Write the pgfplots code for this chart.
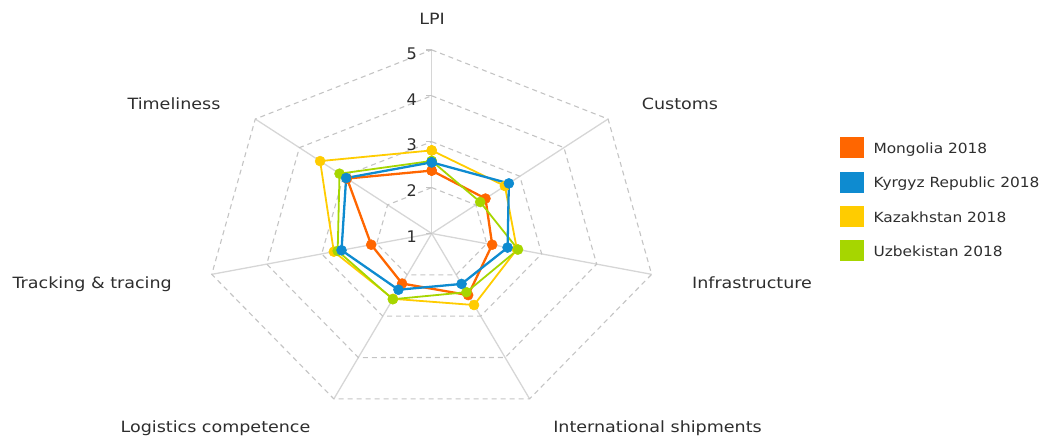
\documentclass[border=0pt]{standalone}
\usepackage{fontspec}
\setmainfont{DejaVu Sans}
\usepackage{pgfplots}
\usepackage{pgfplotstable}
\pgfplotsset{compat=1.18}
\definecolor{cMon}{HTML}{FF6600}
\definecolor{cKyr}{HTML}{0E8BD0}
\definecolor{cKaz}{HTML}{FFCC00}
\definecolor{cUzb}{HTML}{A6D600}
\definecolor{gridc}{HTML}{C4C4C4}
\definecolor{spokec}{HTML}{D6D6D6}
\definecolor{txt}{HTML}{2E2E2E}

% k = axis index (0 LPI, 1 Customs, 2 Infrastructure, 3 International shipments,
% 4 Logistics competence, 5 Tracking & tracing, 6 Timeliness); last row closes the polygon
\pgfplotstableread{
k v
0 2.37
1 2.22
2 2.10
3 2.49
4 2.21
5 2.10
6 2.92
7 2.37
}\mon
\pgfplotstableread{
k v
0 2.55
1 2.75
2 2.38
3 2.22
4 2.36
5 2.64
6 2.94
7 2.55
}\kyr
\pgfplotstableread{
k v
0 2.81
1 2.66
2 2.55
3 2.73
4 2.58
5 2.78
6 3.53
7 2.81
}\kaz
\pgfplotstableread{
k v
0 2.58
1 2.10
2 2.57
3 2.42
4 2.59
5 2.71
6 3.09
7 2.58
}\uzb

\newcommand{\lab}[1]{{\color{txt}\fontsize{15.5}{18}\selectfont\scalebox{1.13}[1]{#1}}}
\newcommand{\leg}[1]{{\color{txt}\fontsize{14}{16}\selectfont\scalebox{1.1}[1]{#1}}}
\newcommand{\tck}[1]{{\color{txt}\fontsize{16}{18}\selectfont #1}}

\begin{document}
\begin{tikzpicture}
\useasboundingbox (0,0) rectangle (1048pt,437pt);
\begin{axis}[at={(0,0)}, anchor=south west, scale only axis, hide axis,
  x=56.4pt, y=45.9pt, xmin=-7.654, xmax=10.927, ymin=-4.434, ymax=5.087, clip=false]
% spokes
\pgfplotsinvokeforeach{0,1,2,3,4,5,6}{
  \draw[spokec, line width=1.3pt] (axis cs:0,0) -- (axis cs:{4*sin(#1*360/7)},{4*cos(#1*360/7)});
}
% rings
\pgfplotsinvokeforeach{1,2,3,4}{
  \draw[gridc, line width=1.1pt, dash pattern=on 5pt off 4pt]
    (axis cs:0,#1)
    -- (axis cs:{#1*sin(360/7)},{#1*cos(360/7)})
    -- (axis cs:{#1*sin(720/7)},{#1*cos(720/7)})
    -- (axis cs:{#1*sin(1080/7)},{#1*cos(1080/7)})
    -- (axis cs:{#1*sin(1440/7)},{#1*cos(1440/7)})
    -- (axis cs:{#1*sin(1800/7)},{#1*cos(1800/7)})
    -- (axis cs:{#1*sin(2160/7)},{#1*cos(2160/7)})
    -- cycle;
}
\addplot[cKaz, line width=1.8pt, mark=*, mark size=5pt, mark options={solid, fill=cKaz, draw=cKaz, line width=0.5pt}]
  table[x expr={(\thisrow{v}-1)*sin(\thisrow{k}*360/7)}, y expr={(\thisrow{v}-1)*cos(\thisrow{k}*360/7)}] {\kaz};
\addplot[cMon, line width=2.3pt, mark=*, mark size=5pt, mark options={solid, fill=cMon, draw=cMon, line width=0.5pt}]
  table[x expr={(\thisrow{v}-1)*sin(\thisrow{k}*360/7)}, y expr={(\thisrow{v}-1)*cos(\thisrow{k}*360/7)}] {\mon};
\addplot[cUzb, line width=1.8pt, mark=*, mark size=5pt, mark options={solid, fill=cUzb, draw=cUzb, line width=0.5pt}]
  table[x expr={(\thisrow{v}-1)*sin(\thisrow{k}*360/7)}, y expr={(\thisrow{v}-1)*cos(\thisrow{k}*360/7)}] {\uzb};
\addplot[cKyr, line width=2.3pt, mark=*, mark size=5pt, mark options={solid, fill=cKyr, draw=cKyr, line width=0.5pt}]
  table[x expr={(\thisrow{v}-1)*sin(\thisrow{k}*360/7)}, y expr={(\thisrow{v}-1)*cos(\thisrow{k}*360/7)}] {\kyr};
\end{axis}
\begin{scope}[x=1pt,y=1pt]
% radial tick marks and labels on LPI axis
\foreach \v/\py in {5/50, 4/95.9, 3/141.75, 2/187.6, 1/233.5}{
  \draw[gridc, line width=1.1pt] (426,437-\py) -- (432,437-\py);
  \node[anchor=east, inner sep=0pt] at (417,437-\py-3.3) {\tck{\v}};
}
% axis labels
\node[anchor=base, inner sep=0pt] at (432,412) {\lab{LPI}};
\node[anchor=base, inner sep=0pt] at (680,327.5) {\lab{Customs}};
\node[anchor=base, inner sep=0pt] at (752,148.3) {\lab{Infrastructure}};
\node[anchor=base, inner sep=0pt] at (657.5,4.7) {\lab{International shipments}};
\node[anchor=base, inner sep=0pt] at (215.5,4.7) {\lab{Logistics competence}};
\node[anchor=base, inner sep=0pt] at (92.2,148.3) {\lab{Tracking \& tracing}};
\node[anchor=base, inner sep=0pt] at (174,327.5) {\lab{Timeliness}};
% legend
\foreach \c/\t/\py in {cMon/Mongolia 2018/147.7, cKyr/Kyrgyz Republic 2018/182.1, cKaz/Kazakhstan 2018/216.5, cUzb/Uzbekistan 2018/250.9}{
  \fill[\c] (840,437-\py-10.5) rectangle (864,437-\py+10.5);
  \node[anchor=base west, inner sep=0pt] at (873.3,437-\py-5.6) {\leg{\t}};
}
\end{scope}
\end{tikzpicture}
\end{document}
